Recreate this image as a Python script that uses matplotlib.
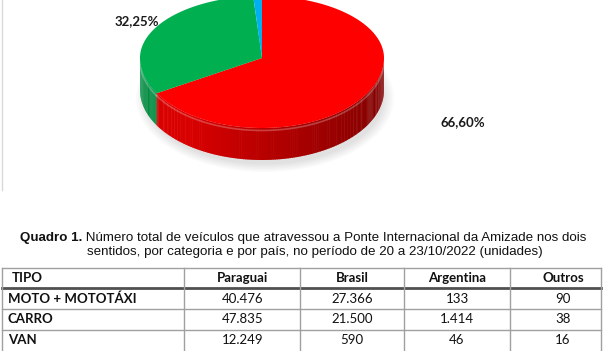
import numpy as np
import matplotlib
matplotlib.use('Agg')
import matplotlib.pyplot as plt
from matplotlib.patches import Polygon, Ellipse

# pie values (percent) and colours
pie_vals = [66.60, 32.25, 1.15]
pie_labels = ['66,60%', '32,25%', '']
pie_colors = ['#ff0000', '#00b050', '#00b0f0']
side_colors = [(0.85, 0.0, 0.0), (0.0, 0.55, 0.25), (0.0, 0.55, 0.8)]

# table
col_names = ['TIPO', 'Paraguai', 'Brasil', 'Argentina', 'Outros']
tipos = ['MOTO + MOTOTÁXI', 'CARRO', 'VAN']
paraguai = [40476, 47835, 12249]
brasil = [27366, 21500, 590]
argentina = [133, 1414, 46]
outros = [90, 38, 16]

caption_bold = 'Quadro 1.'
caption_1 = ' Número total de veículos que atravessou a Ponte Internacional da Amizade nos dois'
caption_2 = 'sentidos, por categoria e por país, no período de 20 a 23/10/2022 (unidades)'


def fmt(v):
    return f'{v:,}'.replace(',', '.')


fig = plt.figure(figsize=(6.03, 3.51), dpi=100)
ax = fig.add_axes([0, 0, 1, 1])
ax.set_xlim(0, 603)
ax.set_ylim(351, 0)
ax.axis('off')

# frame line of the chart area
ax.plot([2, 2], [0, 190], color='#d9d9d9', lw=1)

# 3d pie geometry (pixel space, y down); far half flatter for perspective
cx, cy, a, b_near, b_far, depth = 262, 58, 122, 70, 62, 32


def ell(t):
    s = np.sin(t)
    return cx + a * np.cos(t), cy + np.where(s > 0, b_near, b_far) * s


# soft shadow
for k in range(6):
    ax.add_patch(Ellipse((cx + 3, cy + depth + 8), 2 * a + 14 - 4 * k, 2 * b_near + 8 - 3 * k,
                         color='#000000', alpha=0.018, lw=0, zorder=1))

bounds = np.cumsum([0] + pie_vals) / 100 * 360 - 90

# sides
for i, (t0, t1) in enumerate(zip(bounds[:-1], bounds[1:])):
    lo, hi = max(t0, 0), min(t1, 180)
    if hi <= lo:
        continue
    ts = np.linspace(lo, hi, max(int(hi - lo), 2) + 1)
    base = np.array(side_colors[i])
    for s0, s1 in zip(ts[:-1], ts[1:]):
        tm = np.radians((s0 + s1) / 2)
        shade = 0.55 + 0.45 * (1 - np.cos(tm)) / 2
        shade = min(shade * 1.1, 1.0)
        c = np.clip(base * shade, 0, 1)
        x0, y0 = ell(np.radians(s0))
        x1, y1 = ell(np.radians(s1 + 0.3))
        ax.add_patch(Polygon([(x0, y0), (x1, y1), (x1, y1 + depth), (x0, y0 + depth)],
                             closed=True, color=c, lw=0, zorder=2))
    # light rim at top of side
    xs, ys = ell(np.radians(ts))
    ax.plot(xs, ys + 2.5, color='white', alpha=0.25, lw=1.2, zorder=3)

# top faces
for i, (t0, t1) in enumerate(zip(bounds[:-1], bounds[1:])):
    xs, ys = ell(np.radians(np.linspace(t0, t1, 200)))
    pts = [(cx, cy)] + list(zip(xs, ys))
    ax.add_patch(Polygon(pts, closed=True, color=pie_colors[i], lw=0, zorder=4))

ax.text(463, 122, pie_labels[0], fontsize=9.5, fontweight='bold', family='Lato',
        ha='center', va='center', color='#1a1a1a')
ax.text(137, 21, pie_labels[1], fontsize=9.5, fontweight='bold', family='Lato',
        ha='center', va='center', color='#1a1a1a')

# caption
cap_fs = 9.6
t = ax.text(20, 238, caption_bold, fontsize=cap_fs, fontweight='bold', family='Liberation Sans',
            ha='left', va='center', color='#111111')
fig.canvas.draw()
bb = t.get_window_extent()
ax.text(20 + bb.width, 238, caption_1, fontsize=cap_fs, family='Liberation Sans',
        ha='left', va='center', color='#111111')
ax.text(315, 252, caption_2, fontsize=cap_fs, family='Liberation Sans',
        ha='center', va='center', color='#111111')

# table lines
col_x = [2, 184, 300, 404, 510, 601]
text_x = [243, 352, 457, 563]
row_lines = [268, 288, 309, 330, 351]
row_y = [278, 299, 319, 340]
ax.plot([col_x[0], col_x[-1]], [row_lines[0]] * 2, color='#a0a0a0', lw=1)
ax.plot([col_x[0], col_x[-1]], [row_lines[1]] * 2, color='#505050', lw=2)
for yl in row_lines[2:-1]:
    ax.plot([col_x[0], col_x[-1]], [yl] * 2, color='#a0a0a0', lw=1)
for xl in col_x:
    ax.plot([xl, xl], [row_lines[0], 351], color='#a0a0a0', lw=1)

# header
ax.text(12, row_y[0], col_names[0], fontsize=9.5, fontweight='bold', family='Lato',
        ha='left', va='center', color='#111111')
for j, name in enumerate(col_names[1:]):
    ax.text(text_x[j], row_y[0], name, fontsize=9.5, fontweight='bold', family='Lato',
            ha='center', va='center', color='#111111')

cols = [paraguai, brasil, argentina, outros]
for i, tipo in enumerate(tipos):
    ax.text(8, row_y[i + 1], tipo, fontsize=9.5, fontweight='bold', family='Lato',
            ha='left', va='center', color='#111111')
    for j, col in enumerate(cols):
        ax.text(text_x[j], row_y[i + 1], fmt(col[i]), fontsize=9.5, family='Lato',
                ha='center', va='center', color='#111111')

fig.savefig('out.png', dpi=100, facecolor='white')
